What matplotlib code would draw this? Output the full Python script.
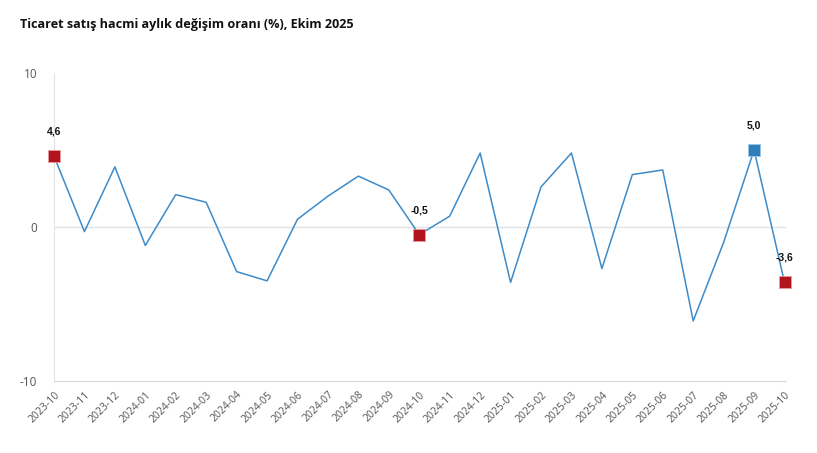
import numpy as np
import matplotlib.pyplot as plt

# Aylar ve aylık değişim oranları (%)
aylar = ['2023-10', '2023-11', '2023-12', '2024-01', '2024-02', '2024-03', '2024-04',
         '2024-05', '2024-06', '2024-07', '2024-08', '2024-09', '2024-10', '2024-11',
         '2024-12', '2025-01', '2025-02', '2025-03', '2025-04', '2025-05', '2025-06',
         '2025-07', '2025-08', '2025-09', '2025-10']
degisim = [4.6, -0.3, 3.9, -1.2, 2.1, 1.6, -2.9, -3.5, 0.5, 2.0, 3.3, 2.4, -0.5, 0.7,
           4.8, -3.6, 2.6, 4.8, -2.7, 3.4, 3.7, -6.1, -1.0, 5.0, -3.6]

# Vurgulanan noktalar
kirmizi = [0, 12, 24]
mavi = [23]

plt.rcParams['font.family'] = ['Open Sans', 'DejaVu Sans']

fig = plt.figure(figsize=(8.17, 4.53), dpi=100)
ax = fig.add_axes([0.0661, 0.159, 0.896, 0.680])

x = np.arange(len(aylar))
ax.plot(x, degisim, color='#3d8bc9', linewidth=1.1, zorder=2)

for i in kirmizi:
    ax.plot(x[i], degisim[i], marker='s', markersize=9, color='#b0151d',
            markeredgecolor='#e89a9a', markeredgewidth=0.6, zorder=3, clip_on=False)
for i in mavi:
    ax.plot(x[i], degisim[i], marker='s', markersize=9, color='#2f7ebc',
            markeredgecolor='#9cc6e6', markeredgewidth=0.6, zorder=3, clip_on=False)

for i in kirmizi + mavi:
    etiket = f'{degisim[i]:.1f}'.replace('.', ',')
    ax.annotate(etiket, (x[i], degisim[i]), xytext=(0, 14), textcoords='offset points',
                ha='center', va='bottom', fontsize=7.5, fontweight='bold', color='#111111',
                family=['Liberation Sans', 'DejaVu Sans'])

ax.set_xlim(0, 24.05)
ax.set_ylim(-10, 10)
ax.set_yticks([-10, 0, 10])
ax.set_yticklabels(['-10', '0', '10'])
ax.set_xticks(x)
ax.set_xticklabels(aylar, rotation=45, ha='right', rotation_mode='anchor')

ax.axhline(0, color='#e3e3e3', linewidth=1, zorder=1)
for s in ['top', 'right']:
    ax.spines[s].set_visible(False)
ax.spines['left'].set_color('#e3e3e3')
ax.spines['bottom'].set_color('#d9d9d9')
ax.tick_params(axis='both', length=0, colors='#555555')
ax.tick_params(axis='x', pad=6, labelsize=7.5)
ax.tick_params(axis='y', pad=12, labelsize=8.5)

fig.text(0.024, 0.945, 'Ticaret satış hacmi aylık değişim oranı (%), Ekim 2025',
         fontsize=9.1, fontweight='bold', color='#111111', va='center')

fig.savefig('out.png', dpi=100)
